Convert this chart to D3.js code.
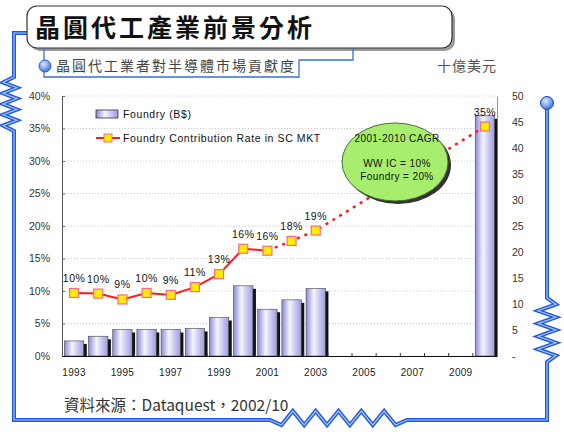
<!DOCTYPE html>
<html>
<head>
<meta charset="utf-8">
<script src="https://cdn.jsdelivr.net/npm/d3@7"></script>
<style>
  body { margin: 0; background: #fff; }
  svg { display: block; }
  text { font-family: Arial, "Liberation Sans", sans-serif; }
  .cjk { font-family: "Noto Sans CJK TC", "Noto Sans CJK SC", sans-serif; }
</style>
</head>
<body>
<div id="chart"></div>
<script>
// chart data
const years = ["1993","1994","1995","1996","1997","1998","1999","2000","2001","2002","2003","2004","2005","2006","2007","2008","2009","2010"];
const foundryBn = [2.9, 3.8, 5.1, 5.1, 5.1, 5.3, 7.4, 13.5, 9.0, 10.8, 13.0, null, null, null, null, null, null, 46.2];
const contribRate = [9.7, 9.6, 8.7, 9.7, 9.4, 10.6, 12.6, 16.5, 16.2, 17.7, 19.3, null, null, null, null, null, null, 35.3];
const rateLabels = ["10%","10%","9%","10%","9%","11%","13%","16%","16%","18%","19%","","","","","","","35%"];
const solidUntil = "2001";
const yearTicks = ["1993","1995","1997","1999","2001","2003","2005","2007","2009"];
const leftTicks = [0, 5, 10, 15, 20, 25, 30, 35, 40];
const rightTicks = [0, 5, 10, 15, 20, 25, 30, 35, 40, 45, 50];
const legendNames = ["Foundry (B$)", "Foundry Contribution Rate in SC MKT"];
const bubbleLines = ["2001-2010  CAGR", "WW IC = 10%", "Foundry = 20%"];
const titleText = "晶圓代工產業前景分析";
const subtitleText = "晶圓代工業者對半導體市場貢獻度";
const unitText = "十億美元";
const sourceText = "資料來源：Dataquest，2002/10";

const W = 564, H = 441;
const plot = { left: 62, right: 497, top: 96, bottom: 356 };

const svg = d3.select("#chart").append("svg")
    .attr("width", W).attr("height", H);

const defs = svg.append("defs");
const barGrad = defs.append("linearGradient").attr("id", "barGrad")
    .attr("x1", "0%").attr("x2", "100%").attr("y1", "0%").attr("y2", "0%");
barGrad.append("stop").attr("offset", "0%").attr("stop-color", "#8a8ad6");
barGrad.append("stop").attr("offset", "40%").attr("stop-color", "#f4f4ff");
barGrad.append("stop").attr("offset", "100%").attr("stop-color", "#9c9ce0");

const ballGrad = defs.append("radialGradient").attr("id", "ballGrad")
    .attr("cx", "40%").attr("cy", "35%").attr("r", "65%");
ballGrad.append("stop").attr("offset", "0%").attr("stop-color", "#dde8ff");
ballGrad.append("stop").attr("offset", "100%").attr("stop-color", "#3f73e6");

// ---- decorative frame ----
function zigzag(x0, y0, x1, y1, n, amp, shift) {
    // zigzag between two points, amp perpendicular (shift moves the centre)
    const dx = x1 - x0, dy = y1 - y0;
    const len = Math.hypot(dx, dy);
    const nx = -dy / len, ny = dx / len;
    let pts = [];
    for (let i = 0; i <= n * 2; i++) {
        const t = i / (n * 2);
        const s = i === 0 || i === n * 2 ? 0 : (i % 2 ? amp : -amp) + shift;
        pts.push([x0 + dx * t + nx * s, y0 + dy * t + ny * s]);
    }
    return pts.map(p => p.join(",")).join(" L");
}

const framePath =
    "M27,33 L14,33 L14,77 L" + zigzag(14, 77, 14, 131, 5, 7, 4) +
    " L14,420 L270,420 L" + zigzag(270, 420, 407, 420, 6, 7, -2) +
    " L547,420 L547,362 L" + zigzag(547, 362, 547, 298, 5, 9, 0) +
    " L547,104";

svg.append("path").attr("d", framePath)
    .attr("fill", "none").attr("stroke", "#1d58e0").attr("stroke-width", 4)
    .attr("stroke-linejoin", "miter");
svg.append("path").attr("d", framePath)
    .attr("fill", "none").attr("stroke", "#a9c4ff").attr("stroke-width", 1.2);

svg.append("circle").attr("cx", 547).attr("cy", 103).attr("r", 6.5)
    .attr("fill", "url(#ballGrad)").attr("stroke", "#1d48b0").attr("stroke-width", 1);

// title box
svg.append("rect").attr("x", 30).attr("y", 9).attr("width", 425).attr("height", 42)
    .attr("rx", 10).attr("fill", "#999");
svg.append("rect").attr("x", 27).attr("y", 6).attr("width", 425).attr("height", 42)
    .attr("rx", 10).attr("fill", "#fff").attr("stroke", "#333").attr("stroke-width", 1.2);
svg.append("text").attr("class", "cjk")
    .attr("x", 35).attr("y", 37)
    .attr("font-size", 25).attr("font-weight", "bold").attr("letter-spacing", 3)
    .attr("fill", "#111").text(titleText);

// subtitle bracket
svg.append("path").attr("d", "M44,48 L44,77 L299,77 L299,60 L353,60 L353,48")
    .attr("fill", "none").attr("stroke", "#3b6fd8").attr("stroke-width", 1.3);
svg.append("rect").attr("x", 52).attr("y", 57).attr("width", 246).attr("height", 19).attr("fill", "#fff");
svg.append("circle").attr("cx", 45).attr("cy", 66).attr("r", 6)
    .attr("fill", "url(#ballGrad)").attr("stroke", "#2a5fd0").attr("stroke-width", 1);
svg.append("text").attr("class", "cjk")
    .attr("x", 56).attr("y", 71)
    .attr("font-size", 14).attr("letter-spacing", 2).attr("fill", "#444")
    .text(subtitleText);
svg.append("text").attr("class", "cjk")
    .attr("x", 437).attr("y", 71)
    .attr("font-size", 14).attr("letter-spacing", 1).attr("fill", "#555")
    .text(unitText);

// ---- scales ----
const x = d3.scaleBand().domain(years)
    .range([plot.left, plot.right]).paddingInner(0.2).paddingOuter(0.1);
const yL = d3.scaleLinear().domain([0, 40]).range([plot.bottom, plot.top]);
const yR = d3.scaleLinear().domain([0, 50]).range([plot.bottom, plot.top]);
const cx = d => x(d) + x.bandwidth() / 2;

// gridlines
svg.append("g").selectAll("line").data(leftTicks.filter(d => d > 0)).join("line")
    .attr("x1", plot.left).attr("x2", plot.right)
    .attr("y1", d => yL(d)).attr("y2", d => yL(d))
    .attr("stroke", "#c8c8c8").attr("stroke-width", 1).attr("stroke-dasharray", "1,2");

// bars
const barData = years.map((y, i) => ({ year: y, v: foundryBn[i] })).filter(d => d.v != null);
const bars = svg.append("g");
bars.selectAll("rect.shadow").data(barData).join("rect").attr("class", "shadow")
    .attr("x", d => x(d.year) + 3).attr("y", d => yR(d.v) + 3)
    .attr("width", x.bandwidth()).attr("height", d => yR(0) - yR(d.v) - 3)
    .attr("fill", "#111");
bars.selectAll("rect.bar").data(barData).join("rect").attr("class", "bar")
    .attr("x", d => x(d.year)).attr("y", d => yR(d.v))
    .attr("width", x.bandwidth()).attr("height", d => yR(0) - yR(d.v))
    .attr("fill", "url(#barGrad)").attr("stroke", "#444").attr("stroke-width", 0.6);

// axes
const axL = svg.append("g").attr("transform", `translate(${plot.left},0)`)
    .call(d3.axisLeft(yL).tickValues(leftTicks).tickFormat(d => d + "%")
        .tickSizeInner(-3).tickSizeOuter(0).tickPadding(12));
axL.select(".domain").attr("stroke", "#555");
axL.selectAll(".tick line").attr("stroke", "#666");
axL.selectAll("text").attr("font-size", 10.5).attr("fill", "#333");

const axR = svg.append("g").attr("transform", `translate(${plot.right},0)`)
    .call(d3.axisRight(yR).tickValues(rightTicks).tickFormat(d => d === 0 ? "-" : d)
        .tickSize(0).tickPadding(15));
axR.select(".domain").attr("stroke", "#777").attr("stroke-width", 0.8);
axR.selectAll("text").attr("font-size", 10.5).attr("fill", "#333");

const axB = svg.append("g").attr("transform", `translate(0,${plot.bottom})`)
    .call(d3.axisBottom(x).tickValues(yearTicks).tickSize(0).tickPadding(13));
axB.select(".domain").attr("stroke", "#111").attr("stroke-width", 1.2);
axB.selectAll("text").attr("font-size", 10).attr("fill", "#222").attr("letter-spacing", 0.3);
// category boundary ticks
svg.append("g").selectAll("line").data(years.slice(1)).join("line")
    .attr("x1", d => x(d) - x.step() * x.paddingInner() / 2)
    .attr("x2", d => x(d) - x.step() * x.paddingInner() / 2)
    .attr("y1", plot.bottom).attr("y2", plot.bottom - 3)
    .attr("stroke", "#333");

// line series
const pts = years.map((y, i) => ({ year: y, v: contribRate[i], label: rateLabels[i] }))
    .filter(d => d.v != null);
const splitIdx = pts.findIndex(d => d.year === solidUntil);
const line = d3.line().x(d => cx(d.year)).y(d => yL(d.v));
svg.append("path").datum(pts.slice(0, splitIdx + 1)).attr("d", line)
    .attr("fill", "none").attr("stroke", "#ff1a1a").attr("stroke-width", 2);
svg.append("path").datum(pts.slice(splitIdx)).attr("d", line)
    .attr("fill", "none").attr("stroke", "#ff1a1a").attr("stroke-width", 2.5)
    .attr("stroke-dasharray", "3,5");

svg.append("g").selectAll("rect").data(pts).join("rect")
    .attr("x", d => cx(d.year) - 4.5).attr("y", d => yL(d.v) - 4.5)
    .attr("width", 9).attr("height", 9)
    .attr("fill", "#ffee00").attr("stroke", "#ff6688").attr("stroke-width", 1.2);

svg.append("g").selectAll("text").data(pts).join("text")
    .attr("x", d => cx(d.year)).attr("y", d => yL(d.v) - 11)
    .attr("text-anchor", "middle").attr("font-size", 10.5).attr("letter-spacing", 0.5)
    .attr("fill", "#111").text(d => d.label);

// legend
const lg = svg.append("g");
lg.append("rect").attr("x", 96).attr("y", 110).attr("width", 22).attr("height", 8)
    .attr("fill", "url(#barGrad)").attr("stroke", "#333").attr("stroke-width", 0.8);
lg.append("line").attr("x1", 96).attr("x2", 120).attr("y1", 138).attr("y2", 138)
    .attr("stroke", "#ff1a1a").attr("stroke-width", 2);
lg.append("rect").attr("x", 104).attr("y", 134).attr("width", 8).attr("height", 8)
    .attr("fill", "#ffee00").attr("stroke", "#ff6688").attr("stroke-width", 1);
lg.selectAll("text").data(legendNames).join("text")
    .attr("x", 123).attr("y", (d, i) => 118 + i * 24)
    .attr("font-size", 10.5).attr("letter-spacing", 0.6).attr("fill", "#111")
    .text(d => d);

// CAGR bubble
const bub = svg.append("g");
bub.append("ellipse").attr("cx", 398).attr("cy", 165).attr("rx", 53).attr("ry", 39).attr("fill", "#333");
bub.append("ellipse").attr("cx", 395).attr("cy", 162).attr("rx", 53).attr("ry", 39)
    .attr("fill", "#a8ee6e").attr("stroke", "#4d6e33").attr("stroke-width", 1);
bub.selectAll("text").data(bubbleLines).join("text")
    .attr("x", 397).attr("y", (d, i) => [142, 167, 180][i])
    .attr("text-anchor", "middle").attr("font-size", 10).attr("letter-spacing", 0.4)
    .attr("fill", "#111").text(d => d);

// source
svg.append("text").attr("class", "cjk")
    .attr("x", 64).attr("y", 411)
    .attr("font-size", 15.5).attr("fill", "#333")
    .text(sourceText);
</script>
</body>
</html>
